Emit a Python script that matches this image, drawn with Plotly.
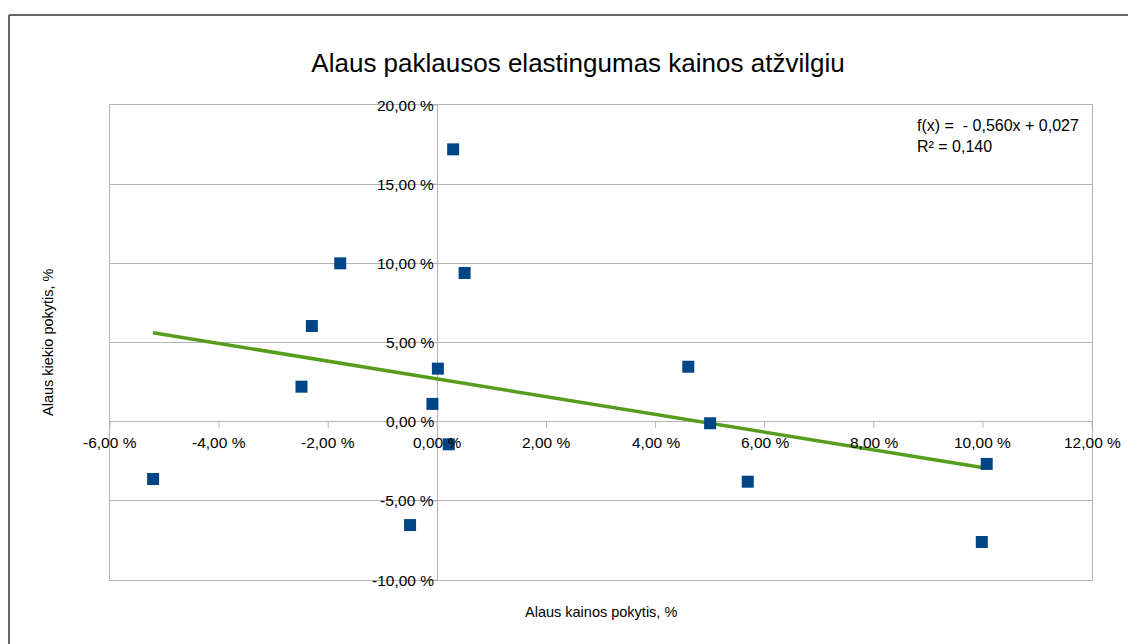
import plotly.graph_objects as go

# Data (percent)
price_change = [-5.21, -2.49, -2.30, -1.78, -0.50, -0.09, 0.01, 0.21, 0.29, 0.50,
                4.60, 5.00, 5.69, 10.07, 9.98]
qty_change = [-3.62, 2.21, 6.04, 10.00, -6.53, 1.12, 3.35, -1.43, 17.20, 9.39,
              3.47, -0.10, -3.79, -2.67, -7.60]
trend_slope = -0.560
trend_intercept = 2.7  # percent (0,027)
x_ticks = [-6, -4, -2, 0, 2, 4, 6, 8, 10, 12]
y_ticks = [-10, -5, 0, 5, 10, 15, 20]

title = "Alaus paklausos elastingumas kainos atžvilgiu"
x_title = "Alaus kainos pokytis, %"
y_title = "Alaus kiekio pokytis, %"
eq_lines = ["f(x) =  - 0,560x + 0,027", "R² = 0,140"]

FONT = "Liberation Sans, Arial, sans-serif"
GRID = "#b3b3b3"

# page body adds an 8px offset; plot area target: x 110..1092, y 105..580
OFF = 8
W, H = 1136 - OFF, 644 - OFF
L, T, R, B = 110 - OFF, 105 - OFF, 1136 - 1092, 644 - 580
PW, PH = 1092 - 110, 580 - 105


def px_x(p):
    return (p - 110) / PW


def px_y(p):
    return (580 - p) / PH


def fmt(v):
    return f"{v:.2f}".replace(".", ",") + " %"


fig = go.Figure()

xmin, xmax = min(price_change), max(price_change)
fig.add_trace(go.Scatter(
    x=[xmin, xmax],
    y=[trend_slope * xmin + trend_intercept, trend_slope * xmax + trend_intercept],
    mode="lines", line=dict(color="#579d1c", width=3.5), showlegend=False,
))
fig.add_trace(go.Scatter(
    x=price_change, y=qty_change, mode="markers",
    marker=dict(symbol="square", size=12, color="#004586", line=dict(width=0)),
    showlegend=False,
))

annotations = []
for v in x_ticks:
    annotations.append(dict(x=v, y=0, xref="x", yref="y", text=fmt(v), showarrow=False,
                            xanchor="center", yanchor="middle", yshift=-21,
                            font=dict(family=FONT, size=15.5, color="#000000")))
for v in y_ticks:
    annotations.append(dict(x=0, y=v, xref="x", yref="y", text=fmt(v), showarrow=False,
                            xanchor="right", yanchor="middle", xshift=-1,
                            font=dict(family=FONT, size=15.5, color="#000000")))
annotations.append(dict(x=px_x(601), y=px_y(612), xref="paper", yref="paper", text=x_title,
                        showarrow=False, xanchor="center", yanchor="middle",
                        font=dict(family=FONT, size=14.5, color="#000000")))
annotations.append(dict(x=px_x(48), y=px_y(342), xref="paper", yref="paper", text=y_title,
                        showarrow=False, textangle=-90, xanchor="center", yanchor="middle",
                        font=dict(family=FONT, size=14.5, color="#000000")))
annotations.append(dict(x=px_x(915), y=px_y(115), xref="paper", yref="paper",
                        text="<br>".join(eq_lines), showarrow=False, align="left",
                        xanchor="left", yanchor="top",
                        font=dict(family=FONT, size=16, color="#000000")))

shapes = []
for v in x_ticks:
    shapes.append(dict(type="line", xref="x", yref="y", ysizemode="pixel", yanchor=0,
                       x0=v, x1=v, y0=0, y1=-6, line=dict(color=GRID, width=1)))
for v in y_ticks:
    shapes.append(dict(type="line", xref="x", yref="y", xsizemode="pixel", xanchor=0,
                       x0=0, x1=-5, y0=v, y1=v, line=dict(color=GRID, width=1)))
# outer frame (top and left edges)
shapes.append(dict(type="line", xref="paper", yref="paper",
                   x0=px_x(9), x1=px_x(1150), y0=px_y(15), y1=px_y(15),
                   line=dict(color="#666666", width=2)))
shapes.append(dict(type="line", xref="paper", yref="paper",
                   x0=px_x(9), x1=px_x(9), y0=px_y(15), y1=px_y(660),
                   line=dict(color="#666666", width=2)))

fig.update_layout(
    width=W, height=H,
    margin=dict(l=L, r=R, t=T, b=B),
    paper_bgcolor="white", plot_bgcolor="white",
    title=dict(text=title, x=px_x(578), xanchor="center", xref="paper",
               y=1 - (63 - OFF) / H, yanchor="middle",
               font=dict(family=FONT, size=26, color="#000000")),
    xaxis=dict(range=[-6, 12], showgrid=False, zeroline=True, zerolinecolor=GRID,
               zerolinewidth=1, showline=True, linecolor=GRID, linewidth=1, mirror=True,
               showticklabels=False, ticks=""),
    yaxis=dict(range=[-10, 20], tickvals=y_ticks, showgrid=True, gridcolor=GRID, gridwidth=1,
               zeroline=True, zerolinecolor=GRID, zerolinewidth=1, showline=True,
               linecolor=GRID, linewidth=1, mirror=True, showticklabels=False, ticks=""),
    annotations=annotations, shapes=shapes, showlegend=False,
)

fig.write_html("out.html")
